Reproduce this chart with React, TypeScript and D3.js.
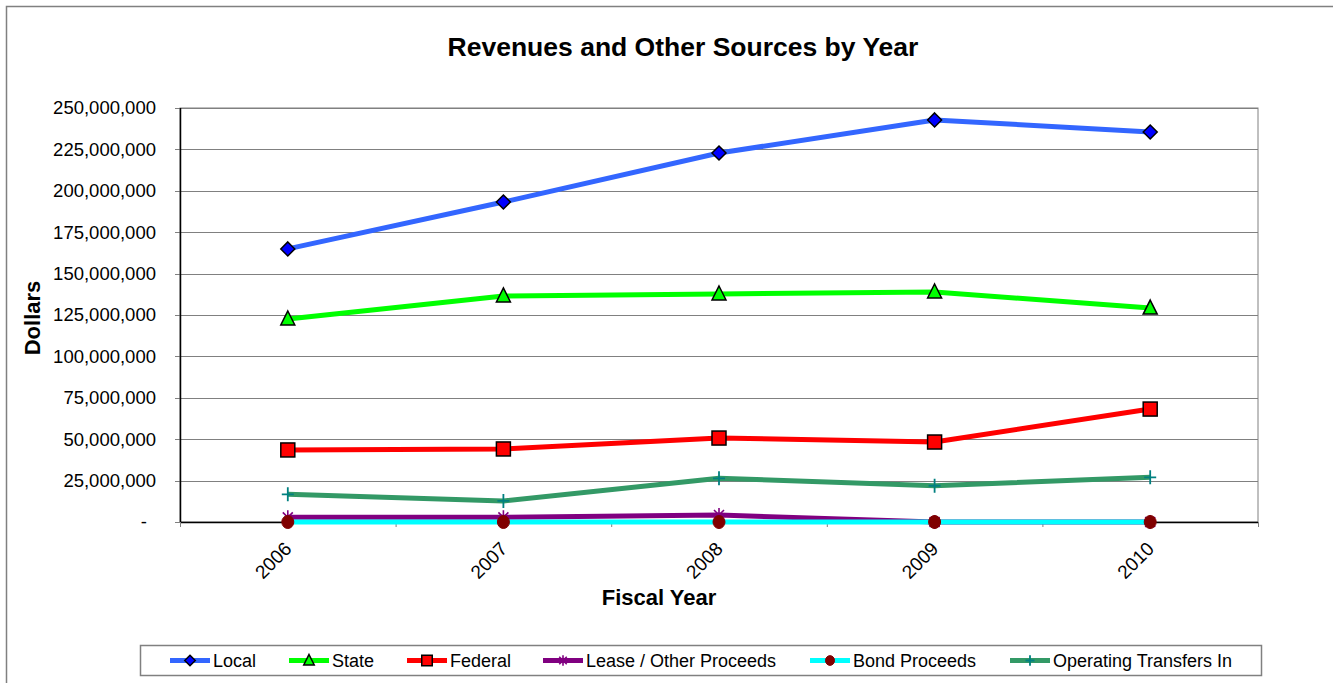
import React from "react";
import * as d3 from "d3";

const years = ["2006", "2007", "2008", "2009", "2010"];
const local = [164900000, 193200000, 222800000, 242800000, 235500000];
const state = [122600000, 136500000, 137700000, 138900000, 129200000];
const federal = [43500000, 44100000, 50700000, 48300000, 68200000];
const lease = [2800000, 2800000, 4200000, 0, 0];
const bond = [0, 0, 0, 0, 0];
const operating = [16700000, 12700000, 26400000, 21900000, 27000000];
const yTicks = [0, 25000000, 50000000, 75000000, 100000000, 125000000, 150000000, 175000000, 200000000, 225000000, 250000000];

type Marker = "diamond" | "triangle" | "square" | "asterisk" | "circle" | "plus";
const seriesNames = ["Local", "State", "Federal", "Lease / Other Proceeds", "Bond Proceeds", "Operating Transfers In"];
const seriesValues = [local, state, federal, lease, bond, operating];
const lineColors = ["#3366FF", "#00FF00", "#FF0000", "#800080", "#00FFFF", "#339966"];
const markerFills = ["#0000FF", "#00FF00", "#FF0000", "none", "#800000", "none"];
const markerStrokes = ["#000000", "#000000", "#000000", "#800080", "#800000", "#008080"];
const markerTypes: Marker[] = ["diamond", "triangle", "square", "asterisk", "circle", "plus"];
const legendX = [170, 289, 407, 543, 810, 1010];

const W = 1333, H = 683;
const plot = { left: 180, right: 1258, top: 108, bottom: 522 };
const FONT = "Arial, 'Liberation Sans', sans-serif";

function MarkerShape({ type, x, y, fill, stroke, s = 1 }: { type: Marker; x: number; y: number; fill: string; stroke: string; s?: number }) {
  switch (type) {
    case "diamond":
      return <path d={`M${x},${y - 7 * s}L${x + 7 * s},${y}L${x},${y + 7 * s}L${x - 7 * s},${y}Z`} fill={fill} stroke={stroke} strokeWidth={1.5} />;
    case "triangle":
      return <path d={`M${x},${y - 8 * s}L${x + 7 * s},${y + 6 * s}L${x - 7 * s},${y + 6 * s}Z`} fill={fill} stroke={stroke} strokeWidth={1.5} />;
    case "square":
      return <rect x={x - 7 * s} y={y - 7 * s} width={14 * s} height={14 * s} fill={fill} stroke={stroke} strokeWidth={1.5} />;
    case "circle":
      return <ellipse cx={x} cy={y} rx={6 * s} ry={6.5 * s} fill={fill} stroke={stroke} strokeWidth={1} />;
    case "plus":
      return <path d={`M${x - 6 * s},${y}L${x + 6 * s},${y}M${x},${y - 7 * s}L${x},${y + 7 * s}`} stroke={stroke} strokeWidth={1.8} fill="none" />;
    case "asterisk":
      return <path d={`M${x - 5 * s},${y - 5 * s}L${x + 5 * s},${y + 5 * s}M${x + 5 * s},${y - 5 * s}L${x - 5 * s},${y + 5 * s}M${x},${y - 7 * s}L${x},${y + 7 * s}`} stroke={stroke} strokeWidth={1.6} fill="none" />;
  }
}

export default function App() {
  const x = d3.scaleBand<string>().domain(years).range([plot.left, plot.right]).padding(0);
  const y = d3.scaleLinear().domain([0, 250000000]).range([plot.bottom, plot.top]);
  const cx = (d: string) => (x(d) ?? 0) + x.bandwidth() / 2;
  const line = d3.line<number>().x((_, i) => cx(years[i])).y((v) => y(v));
  const fmt = d3.format(",.0f");
  const bounds = years.map((d) => x(d) ?? 0).concat([plot.right]);

  return (
    <svg width={W} height={H} style={{ position: "absolute", left: 0, top: 0, background: "#fff" }} fontFamily={FONT}>
      <rect x={6.5} y={6.5} width={1400} height={800} fill="#fff" stroke="#808080" strokeWidth={1.5} />
      <text x={683} y={56} textAnchor="middle" fontSize={26.5} fontWeight="bold">Revenues and Other Sources by Year</text>

      {/* plot area */}
      <rect x={plot.left} y={plot.top} width={plot.right - plot.left} height={plot.bottom - plot.top} fill="#fff" stroke="#808080" strokeWidth={1} />
      {yTicks.map((t) => (
        <g key={t}>
          <line x1={plot.left} x2={plot.right} y1={Math.round(y(t)) + 0.5} y2={Math.round(y(t)) + 0.5} stroke="#808080" strokeWidth={1} />
          <line x1={plot.left - 5} x2={plot.left} y1={Math.round(y(t)) + 0.5} y2={Math.round(y(t)) + 0.5} stroke="#808080" strokeWidth={1} />
          <text x={t === 0 ? 147 : 156} y={y(t)} dy="0.35em" textAnchor="end" fontSize={18.5}>{t === 0 ? "-" : fmt(t)}</text>
        </g>
      ))}
      <line x1={plot.left + 0.5} x2={plot.left + 0.5} y1={plot.top} y2={plot.bottom} stroke="#000" strokeWidth={1.5} />
      <line x1={plot.left} x2={plot.right} y1={plot.bottom + 0.5} y2={plot.bottom + 0.5} stroke="#000" strokeWidth={1.5} />
      {bounds.map((b, i) => (
        <line key={i} x1={b + 0.5} x2={b + 0.5} y1={plot.bottom} y2={plot.bottom + 5} stroke="#808080" strokeWidth={1} />
      ))}
      {years.map((d) => (
        <text key={d} transform={`translate(${cx(d) + 5},${plot.bottom + 28}) rotate(-45)`} textAnchor="end" fontSize={19}>{d}</text>
      ))}
      <text x={659} y={605} textAnchor="middle" fontSize={22} fontWeight="bold">Fiscal Year</text>
      <text transform="translate(40,318) rotate(-90)" textAnchor="middle" fontSize={22} fontWeight="bold">Dollars</text>

      {/* series */}
      {seriesValues.map((vals, si) => (
        <path key={si} d={line(vals) ?? ""} fill="none" stroke={lineColors[si]} strokeWidth={5} strokeLinejoin="round" />
      ))}
      {seriesValues.map((vals, si) => (
        <g key={si}>
          {vals.map((v, i) => (
            <MarkerShape key={i} type={markerTypes[si]} x={cx(years[i])} y={y(v)} fill={markerFills[si]} stroke={markerStrokes[si]} />
          ))}
        </g>
      ))}

      {/* legend */}
      <rect x={140.5} y={645.5} width={1121} height={30} fill="#fff" stroke="#808080" strokeWidth={1.5} />
      {seriesNames.map((n, si) => (
        <g key={n}>
          <line x1={legendX[si]} x2={legendX[si] + 40} y1={660.5} y2={660.5} stroke={lineColors[si]} strokeWidth={5} />
          <MarkerShape type={markerTypes[si]} x={legendX[si] + 20} y={660.5} fill={markerFills[si]} stroke={markerStrokes[si]} s={0.75} />
          <text x={legendX[si] + 43} y={660.5} dy="0.35em" fontSize={18}>{n}</text>
        </g>
      ))}
    </svg>
  );
}
